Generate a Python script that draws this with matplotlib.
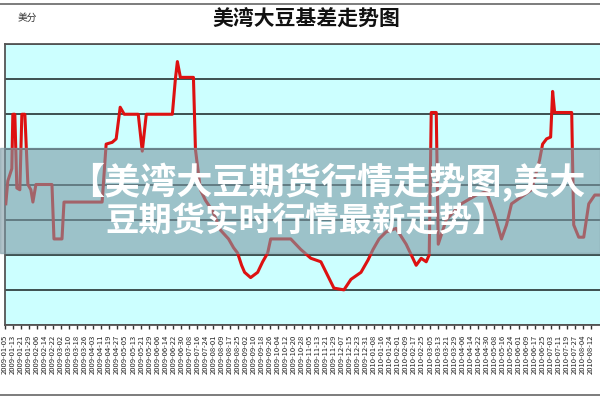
import numpy as np
import pandas as pd
import matplotlib
matplotlib.use("Agg")
import matplotlib.pyplot as plt
from matplotlib.patches import Rectangle

plt.rcParams['font.family'] = ['Noto Sans CJK SC', 'DejaVu Sans']

# basis series (day index, cents)
days = [1, 3, 7, 8, 10, 12, 15, 17, 20, 23, 26, 28, 31, 47, 49, 57, 59, 97, 101, 107,
        111, 115, 119, 133, 137, 141, 167, 170, 172, 175, 188, 190, 195, 200, 207, 215,
        223, 228, 232, 236, 239, 245, 252, 257, 262, 265, 285, 295, 305, 315, 328, 338,
        345, 355, 362, 367, 373, 380, 390, 400, 405, 410, 415, 420, 423, 425, 430, 432,
        440, 455, 470, 480, 488, 495, 500, 505, 515, 525, 533, 536, 540, 544, 546, 548,
        565, 567, 572, 577, 582, 588, 595]
basis = [69, 82, 89, 120, 120, 78, 77, 120, 120, 80, 77, 70, 80, 80, 49, 49, 70, 70, 103, 104,
         106, 124, 120, 120, 99, 120, 120, 140, 150, 141, 141, 100, 77, 71, 65, 54,
         49, 44, 41, 34, 30, 27, 30, 36, 41, 49, 49, 43, 38, 36, 21, 20,
         26, 30, 37, 43, 49, 53, 55, 46, 40, 34, 38, 36, 40, 121, 121, 46,
         60, 69, 74, 76, 63, 49, 57, 69, 73, 77, 94, 103, 106, 107, 133, 121,
         121, 57, 50, 50, 69, 74, 74]

tick_days = list(range(0, 589, 8))
tick_labels = [d.strftime('%Y-%m-%d') for d in pd.date_range('2009-01-05', periods=len(tick_days), freq='8D')]

title = '美湾大豆基差走势图'
unit = '美分'
banner1 = '【美湾大豆期货行情走势图,美大'
banner2 = '豆期货实时行情最新走势】'

fig = plt.figure(figsize=(6, 4), dpi=100)
ax = fig.add_axes([0.008, 0.1875, 0.995, 0.7025])
ax.set_facecolor('#ccffff')

ax.plot(days, basis, color='#dd1111', lw=2.2, zorder=3)

ax.set_xlim(0, 595)
ax.set_ylim(0, 160)
ax.set_yticks(np.arange(0, 161, 20))
ax.yaxis.grid(True, color='#3d5050', lw=1.4)
ax.tick_params(axis='y', length=0, labelleft=False)
ax.set_xticks(tick_days)
ax.set_xticklabels(tick_labels, rotation=90, fontsize=5.5, color='#222222')
ax.tick_params(axis='x', length=3, width=1, color='#333333', pad=4)
for s in ['left', 'bottom', 'top']:
    ax.spines[s].set_color('#555555')
    ax.spines[s].set_linewidth(1.3)
ax.spines['right'].set_visible(False)

fig.text(0.51, 0.955, title, ha='center', va='center', fontsize=15, fontweight='bold', color='#111111')
fig.text(0.03, 0.955, unit, ha='left', va='center', fontsize=7, color='#333333')

# thin frame lines at top and bottom of the picture
fig.add_artist(plt.Line2D([0, 1], [0.99, 0.99], color='#666666', lw=1.2))
fig.add_artist(plt.Line2D([0, 1], [0.012, 0.012], color='#666666', lw=1.2))

# overlay banner
fig.add_artist(Rectangle((0, 0.3675), 1, 0.2625, transform=fig.transFigure,
                         color='#7d9aa5', alpha=0.6, zorder=10))
fig.text(0.545, 0.545, banner1, ha='center', va='center', fontsize=26, fontweight='bold',
         color='white', zorder=11)
fig.text(0.51, 0.445, banner2, ha='center', va='center', fontsize=24, fontweight='bold',
         color='white', zorder=11)

fig.savefig('out.png', dpi=100)
